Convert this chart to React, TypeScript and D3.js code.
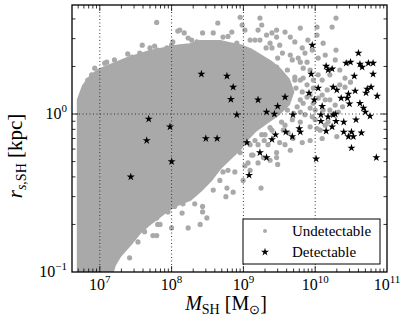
import React from 'react';
import * as d3 from 'd3';

// subhalo mass [Msun] vs scale radius [kpc]

// outline of the dense core of the undetectable population
const coreOutline: [number, number][] = [
  [5.1e6, 0.1], [5.1e6, 1.23], [6.0e6, 1.5], [7.7e6, 1.74], [1.0e7, 1.9], [1.38e7, 2.01],
  [1.9e7, 2.13], [2.6e7, 2.26], [3.6e7, 2.36], [5.0e7, 2.47], [6.9e7, 2.54], [9.5e7, 2.62],
  [1.3e8, 2.69], [1.8e8, 2.73], [2.5e8, 2.86], [3.4e8, 2.86], [4.7e8, 2.86], [6.5e8, 2.77],
  [9.0e8, 2.69], [1.24e9, 2.54], [1.7e9, 2.33], [2.35e9, 2.13], [3.2e9, 1.9], [4.2e9, 1.64],
  [4.8e9, 1.38], [4.2e9, 1.16], [3.0e9, 1.0], [2.07e9, 0.89], [1.45e9, 0.79], [1.12e9, 0.7],
  [9.0e8, 0.61], [6.5e8, 0.53], [4.7e8, 0.46], [3.4e8, 0.38], [2.5e8, 0.33], [1.8e8, 0.29],
  [1.22e8, 0.27], [8.9e7, 0.25], [6.2e7, 0.22], [4.7e7, 0.2], [3.6e7, 0.18], [2.6e7, 0.15],
  [1.9e7, 0.128], [1.57e7, 0.111], [1.47e7, 0.1]
];

// undetectable subhaloes lying outside the dense core
const undetectable: [number, number][] = [
  [6.2e7, 3.8], [1.22e8, 3.35], [3.9e7, 2.73], [5.0e7, 2.62], [6.4e7, 2.54], [8.6e7, 2.62],
  [1.0e8, 2.73], [1.25e7, 2.13], [1.6e7, 2.2], [2.1e7, 2.13], [2.8e7, 2.29], [7.7e6, 1.77],
  [6.8e6, 1.64], [6.2e6, 1.48], [3.6e7, 2.43], [4.5e7, 2.26], [1.3e8, 3.4], [1.5e8, 3.26],
  [2.7e8, 3.26], [2.25e8, 2.86], [1.9e8, 2.94], [1.04e8, 2.86], [1.44e8, 2.54], [3.4e8, 2.66],
  [4.7e8, 2.66], [8.1e8, 2.81], [9.0e8, 4.1], [1.7e9, 4.05], [4.4e8, 3.77], [9.6e8, 3.66],
  [1.05e9, 3.4], [1.6e9, 3.4], [2.1e9, 3.16], [2.5e9, 3.26], [2.9e9, 3.4], [3.8e8, 3.26],
  [5.2e8, 3.07], [6.9e8, 3.3], [1.24e9, 2.94], [1.7e9, 2.94], [2.35e9, 2.81], [3.8e9, 3.3],
  [4.5e9, 3.07], [5.2e9, 2.86], [6.6e9, 2.62], [7.2e9, 2.43], [2.9e9, 3.07], [3.2e9, 2.73],
  [2.5e9, 2.62], [3.5e9, 2.43], [4.5e9, 2.36], [5.8e9, 2.26], [7.7e9, 2.13], [1.1e10, 2.26],
  [1.06e10, 3.55], [1.72e10, 3.55], [1.95e10, 4.05], [1.06e10, 3.16], [1.29e10, 2.81],
  [1.95e10, 2.54], [1.1e10, 1.77], [2.2e10, 1.9], [3.1e10, 1.59], [2.6e10, 1.48], [6.8e9, 1.95],
  [4.1e9, 1.9], [5.2e9, 1.71], [6.8e9, 1.69], [9.4e9, 1.64], [2.9e9, 1.98], [6.2e9, 1.64],
  [7.7e9, 1.53], [9.4e9, 1.46], [7.7e9, 1.28], [6.8e9, 1.17], [5.6e9, 1.11], [4.1e9, 1.06],
  [6.2e9, 1.03], [9.4e9, 1.17], [1.0e10, 1.06], [1.29e10, 1.06], [1.6e10, 1.23], [1.47e10, 1.42],
  [2.1e10, 1.03], [2.4e10, 1.11], [1.51e10, 0.89], [2.0e10, 0.72], [1.25e10, 0.7], [1.06e10, 0.81],
  [9.1e9, 0.96], [8.5e9, 0.83], [6.6e9, 0.66], [4.9e9, 0.7], [4.2e9, 0.76], [3.6e9, 0.79],
  [3.2e9, 0.66], [2.9e9, 0.57], [2.35e9, 0.51], [3.0e9, 0.48], [2.9e9, 0.53], [1.9e9, 0.53],
  [1.6e9, 0.49], [1.36e9, 0.55], [1.16e9, 0.49], [9.9e8, 0.66], [9.0e8, 0.57], [1.45e9, 0.68],
  [2.0e9, 0.74], [1.76e9, 0.34], [9.9e8, 0.38], [1.24e9, 0.44], [7.2e8, 0.32], [5.7e8, 0.3],
  [3.8e8, 0.33], [3.1e8, 0.22], [2.7e8, 0.26], [5.9e8, 0.34], [4.7e8, 0.38], [5.2e8, 0.43],
  [6.1e8, 0.44], [2.1e8, 0.27], [1.7e8, 0.19], [2.5e8, 0.2], [1.4e8, 0.236], [1.0e8, 0.19],
  [6.4e7, 0.2], [6.2e7, 0.22], [5.5e7, 0.17], [8.9e7, 0.24], [1.1e8, 0.26], [1.44e8, 0.27],
  [2.7e8, 0.24], [4.2e7, 0.18], [2.6e7, 0.123], [1.9e7, 0.14], [3.4e7, 0.155], [6.9e7, 0.2],
  [6.2e7, 0.17], [4.8e9, 2.2], [6.2e9, 2.13], [8.5e9, 1.9], [5.4e9, 1.46], [6.6e9, 1.38],
  [8.5e9, 1.32], [1.1e10, 1.26], [1.25e10, 1.32], [7.2e9, 0.99], [8.5e9, 1.09], [4.8e9, 0.92],
  [6.2e9, 0.89], [3.8e9, 0.85], [2.35e9, 0.82], [1.8e9, 0.74], [2.2e9, 0.64], [1.6e9, 0.64],
  [1.24e9, 0.64], [1.17e10, 0.79], [1.6e10, 1.06], [1.9e10, 1.14], [1.38e10, 1.23], [2.2e10, 1.53],
  [2.6e10, 1.69], [1.25e10, 1.64], [1.6e10, 1.77], [1.9e10, 2.2], [1.38e10, 2.36], [9.1e9, 2.54],
  [6.2e9, 3.5], [7.9e9, 2.94], [1.8e9, 3.66], [5.2e9, 1.64], [6.2e9, 1.23], [5.0e9, 1.01],
  [3.4e9, 0.89], [2.5e9, 0.79], [1.95e9, 0.68], [1.3e9, 0.55], [1.05e9, 0.47], [7.6e8, 0.43],
  [1.0e10, 0.92], [1.38e10, 0.85], [8.5e9, 0.68], [4.5e9, 0.59], [3.8e9, 0.64], [8.5e6, 1.95],
  [1.17e7, 2.1], [2.45e7, 2.4], [5.8e7, 2.69], [1.7e8, 3.03], [6.1e8, 3.1], [1.45e9, 2.94],
  [2.07e9, 2.62], [3.0e9, 2.26]
];

// detectable subhaloes
const detectable: [number, number][] = [
  [2.7e7, 0.4], [4.5e7, 0.68], [4.8e7, 0.93], [9.5e7, 0.83], [1.0e8, 0.5], [2.6e8, 1.79],
  [3.0e8, 0.7], [4.3e8, 0.7], [5.9e8, 1.74], [7.2e8, 1.48], [6.7e8, 1.24], [8.1e8, 0.99],
  [1.12e9, 0.66], [1.2e9, 0.41], [1.6e9, 1.23], [1.7e9, 0.57], [2.1e9, 0.53], [2.1e9, 1.03],
  [2.7e9, 1.0], [2.5e9, 0.69], [2.8e9, 0.74], [3.0e9, 1.12], [3.8e9, 1.28], [4.9e9, 0.99],
  [3.9e9, 0.77], [4.8e9, 0.72], [6.0e9, 0.81], [6.2e9, 0.77], [9.1e9, 2.73], [8.8e9, 1.79],
  [8.2e9, 1.36], [9.7e9, 1.23], [1.1e10, 1.46], [1.25e10, 1.12], [1.2e10, 0.99], [1.2e10, 0.9],
  [1.03e10, 0.52], [1.42e10, 2.01], [1.51e10, 1.9], [1.72e10, 1.93], [1.78e10, 1.48],
  [2.0e10, 1.42], [1.51e10, 0.96], [1.72e10, 0.83], [1.78e10, 0.99], [1.95e10, 0.9],
  [1.42e10, 0.78], [2.3e10, 1.26], [2.8e10, 1.26], [2.9e10, 1.34], [3.0e10, 1.16], [2.7e10, 2.1],
  [3.1e10, 2.13], [4.0e10, 2.43], [3.5e10, 1.74], [3.6e10, 1.4], [2.5e10, 0.89], [2.5e10, 0.77],
  [2.9e10, 0.72], [3.2e10, 0.77], [3.4e10, 0.72], [3.2e10, 0.61], [3.7e10, 0.92], [4.4e10, 0.76],
  [4.5e10, 1.98], [4.2e10, 2.07], [5.5e10, 2.1], [6.4e10, 2.1], [6.4e10, 1.79], [5.3e10, 1.44],
  [6.0e10, 1.48], [5.1e10, 1.36], [7.3e10, 1.3], [4.2e10, 1.17], [4.7e10, 1.09], [5.0e10, 1.03],
  [5.8e10, 0.97], [7.1e10, 0.53], [1.9e10, 1.0]
];

const massDecades = [1e7, 1e8, 1e9, 1e10, 1e11];
const massExponents = ['7', '8', '9', '10', '11'];
const radiusDecades = [0.1, 1];
const radiusExponents = ['\u22121', '0'];
const legendLabels = ['Undetectable', 'Detectable'];

const plot = {left: 72, top: 5, right: 387, bottom: 272};
const grey = '#a9a9a9';
const font = "'Liberation Serif', 'Times New Roman', serif";

const isDecade = (v: number) => Math.abs(Math.log10(v) - Math.round(Math.log10(v))) < 1e-6;

export default function App() {
  const x = d3.scaleLog().domain([4.1e6, 1e11]).range([plot.left, plot.right]);
  const y = d3.scaleLog().domain([0.1, 4.9]).range([plot.bottom, plot.top]);

  const corePath = d3.line<[number, number]>()
    .x(d => x(d[0]))
    .y(d => y(d[1]))
    .curve(d3.curveLinearClosed)(coreOutline) as string;

  const star = d3.symbol().type(d3.symbolStar).size(20)() as string;

  const xTicks = x.ticks();
  const yTicks = y.ticks();

  return (
    <div style={{position: 'absolute', left: 0, top: 0}}>
      <svg width={407} height={326} style={{display: 'block', background: '#fff'}} fontFamily={font}>
        <defs>
          <clipPath id="plotArea">
            <rect x={plot.left} y={plot.top} width={plot.right - plot.left} height={plot.bottom - plot.top} />
          </clipPath>
        </defs>

        <g clipPath="url(#plotArea)">
          <path d={corePath} fill={grey} stroke={grey} strokeWidth={4} strokeLinejoin="round" />
          {undetectable.map((d, i) => (
            <circle key={i} cx={x(d[0])} cy={y(d[1])} r={2.6} fill={grey} />
          ))}
        </g>

        {/* grid */}
        {massDecades.slice(0, 4).map(v => (
          <line key={'gx' + v} x1={x(v)} x2={x(v)} y1={plot.top} y2={plot.bottom}
            stroke="#333" strokeWidth={1} strokeDasharray="1,2.5" />
        ))}
        <line x1={plot.left} x2={plot.right} y1={y(1)} y2={y(1)} stroke="#333" strokeWidth={1} strokeDasharray="1,2.5" />

        <g clipPath="url(#plotArea)">
          {detectable.map((d, i) => (
            <path key={i} d={star} transform={`translate(${x(d[0])},${y(d[1])})`} fill="#000" />
          ))}
        </g>

        {/* ticks on all four sides */}
        {xTicks.map((t, i) => {
          const len = isDecade(t) ? 6 : 3.5;
          const px = x(t);
          if (px < plot.left + 1 || px > plot.right - 1) return null;
          return (
            <g key={'xt' + i} stroke="#000" strokeWidth={0.8}>
              <line x1={px} x2={px} y1={plot.bottom} y2={plot.bottom - len} />
              <line x1={px} x2={px} y1={plot.top} y2={plot.top + len} />
            </g>
          );
        })}
        {yTicks.map((t, i) => {
          const len = isDecade(t) ? 6 : 3.5;
          const py = y(t);
          if (py < plot.top + 1 || py > plot.bottom - 1) return null;
          return (
            <g key={'yt' + i} stroke="#000" strokeWidth={0.8}>
              <line x1={plot.left} x2={plot.left + len} y1={py} y2={py} />
              <line x1={plot.right} x2={plot.right - len} y1={py} y2={py} />
            </g>
          );
        })}

        <rect x={plot.left} y={plot.top} width={plot.right - plot.left} height={plot.bottom - plot.top}
          fill="none" stroke="#000" strokeWidth={1.3} />

        {/* tick labels */}
        {massDecades.map((v, i) => (
          <text key={'xl' + v} x={x(v)} y={plot.bottom + 18} textAnchor="middle" fontSize={16}>
            10<tspan dy={-7} fontSize={11}>{massExponents[i]}</tspan>
          </text>
        ))}
        {radiusDecades.map((v, i) => (
          <text key={'yl' + v} x={plot.left - 5} y={y(v) + 5} textAnchor="end" fontSize={16}>
            10<tspan dy={-7} fontSize={11}>{radiusExponents[i]}</tspan>
          </text>
        ))}

        {/* axis labels */}
        <text x={226} y={310} textAnchor="middle" fontSize={20}>
          <tspan fontStyle="italic">M</tspan>
          <tspan fontSize={14} dy={4}>SH</tspan>
          <tspan dy={-4}> [M</tspan>
          <tspan fontSize={13} dy={4}>{'\u2299'}</tspan>
          <tspan dy={-4}>]</tspan>
        </text>
        <text transform="translate(22,156) rotate(-90)" textAnchor="middle" fontSize={21}>
          <tspan fontStyle="italic">r</tspan>
          <tspan fontSize={14} dy={4}><tspan fontStyle="italic">s</tspan>,SH</tspan>
          <tspan dy={-4}> [kpc]</tspan>
        </text>

        {/* legend */}
        <g>
          <rect x={243} y={219} width={137} height={45} fill="#fff" stroke="#000" strokeWidth={1} />
          <circle cx={265} cy={231} r={2} fill={grey} />
          <path d={star} transform="translate(265,252)" fill="#000" />
          {legendLabels.map((l, i) => (
            <text key={l} x={292} y={236 + i * 21} fontSize={15}>{l}</text>
          ))}
        </g>
      </svg>
    </div>
  );
}
